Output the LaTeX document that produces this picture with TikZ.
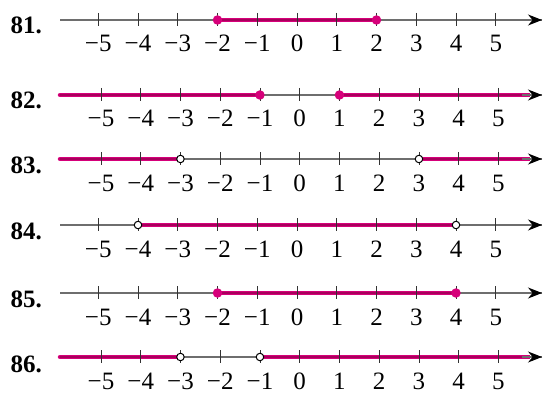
\documentclass[tikz,border=0pt]{standalone}
\usepackage{fontspec}
\setmainfont{Liberation Serif}
\usetikzlibrary{arrows.meta}
\definecolor{cpink}{HTML}{D6007A}
\definecolor{cpinkdark}{HTML}{A8005C}
\definecolor{caxis}{HTML}{6E6E6E}
\tikzset{
  every picture/.style={line width=1pt},
  axisline/.style={draw=caxis, line width=1.1pt},
  axis/.style={axisline, -{Stealth[length=14pt, width=11pt, black]}},
  tick/.style={draw=black!80, line width=0.9pt},
  seg/.style={draw=cpink, line width=4.5pt, line cap=round, postaction={draw=cpinkdark, line width=1.1pt}},
  closed/.style={circle, fill=cpink, inner sep=0pt, minimum size=9.5pt},
  open/.style={circle, draw=black, fill=white, line width=1pt, inner sep=0pt, minimum size=7.5pt},
  num/.style={anchor=base, font=\fontsize{25}{30}\selectfont, inner sep=0pt},
  rowlabel/.style={anchor=base west, font=\fontsize{25}{30}\selectfont\bfseries, inner sep=0pt},
}

\begin{document}
\begin{tikzpicture}[x=1pt, y=-1pt]
  \useasboundingbox (0,0) rectangle (543,393);
  \newcommand{\numline}[3]{%
    \coordinate (#1s) at (60,#2);
    \coordinate (#1e) at (542,#2);
    \coordinate (#1r) at (530,#2);
    \draw[axisline] (#1s) -- (#1e);
    \foreach \n in {-5,...,5}
      \coordinate (#1x\n) at ({297+#3+39.75*\n},{#2});
  }
  \newcommand{\tickmarks}[1]{%
    \foreach \n in {-5,...,5} {
      \pgfmathtruncatemacro{\m}{abs(\n)}
      \draw[tick] (#1x\n) ++(0,-7) -- ++(0,13);
      \node[num] (#1n\n) at ([yshift=-32pt]#1x\n) {\ifnum\n<0 −\fi\m};
    }
    \draw[axis] ([xshift=-20pt]#1e) -- (#1e);
  }

  % axes
  \numline{a}{20}{0}
  \numline{b}{95}{2.7}
  \numline{c}{159}{2.7}
  \numline{d}{225}{0}
  \numline{e}{293}{0}
  \numline{f}{357}{2.7}

  % solution sets
  \draw[seg] (ax-2) -- (ax2);
  \draw[seg] (bs) -- (bx-1);
  \draw[seg, line cap=butt] (bx1) -- (br);
  \draw[seg] (cs) -- (cx-3);
  \draw[seg, line cap=butt] (cx3) -- (cr);
  \draw[seg] (dx-4) -- (dx4);
  \draw[seg] (ex-2) -- (ex4);
  \draw[seg] (fs) -- (fx-3);
  \draw[seg, line cap=butt] (fx-1) -- (fr);

  % ticks, numbers and arrow tips
  \foreach \r in {a,b,c,d,e,f} {
    \tickmarks{\r}
  }

  % exercise numbers
  \node[rowlabel] (l81) at (10,34) {81.};
  \node[rowlabel] (l82) at (10,109) {82.};
  \node[rowlabel] (l83) at (10,173) {83.};
  \node[rowlabel] (l84) at (10,239) {84.};
  \node[rowlabel] (l85) at (10,307) {85.};
  \node[rowlabel] (l86) at (10,372) {86.};

  % end points
  \node[closed] (a1) at (ax-2) {};
  \node[closed] (a2) at (ax2) {};
  \node[closed] (b1) at (bx-1) {};
  \node[closed] (b2) at (bx1) {};
  \node[open] (c1) at (cx-3) {};
  \node[open] (c2) at (cx3) {};
  \node[open] (d1) at (dx-4) {};
  \node[open] (d2) at (dx4) {};
  \node[closed] (e1) at (ex-2) {};
  \node[closed] (e2) at (ex4) {};
  \node[open] (f1) at (fx-3) {};
  \node[open] (f2) at (fx-1) {};
\end{tikzpicture}
\end{document}
